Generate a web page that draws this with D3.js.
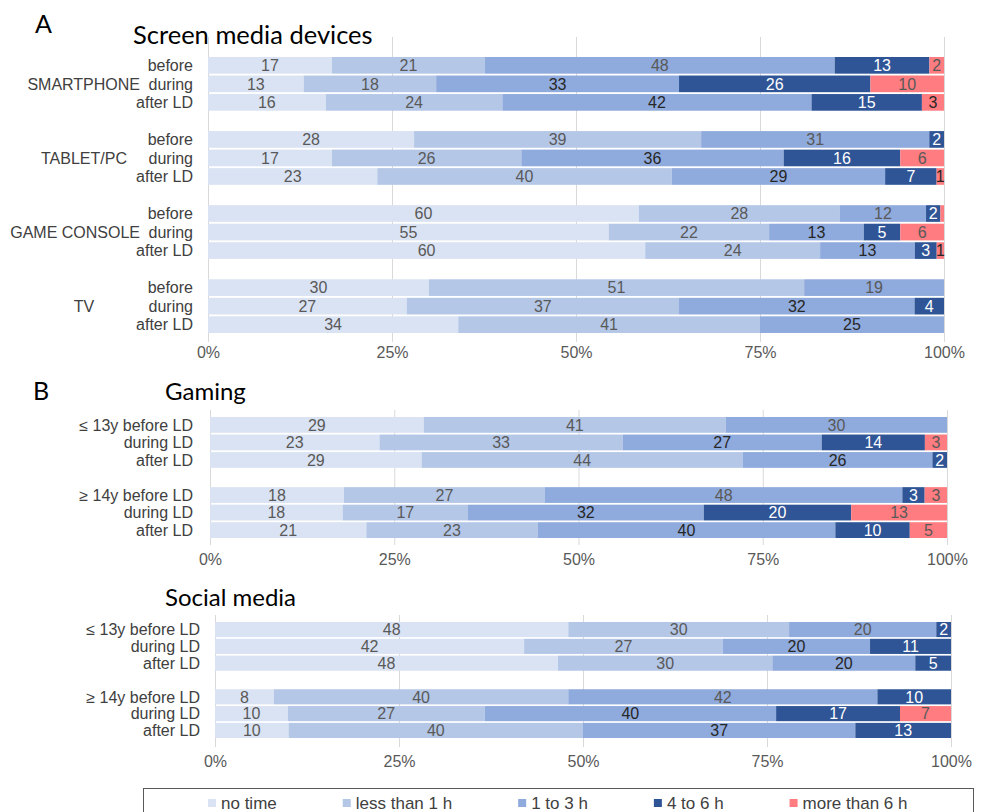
<!DOCTYPE html>
<html>
<head>
<meta charset="utf-8">
<script src="https://cdn.jsdelivr.net/npm/d3@7"></script>
<style>
  body { margin: 0; background: #fff; }
  text { font-family: "Liberation Sans", Arial, sans-serif; }
  .title { font-family: Lato, "Open Sans", sans-serif; fill: #000; }
</style>
</head>
<body>
<div class="chart"></div>
<script>
// answer categories (legend order = stack order)
const categories = ["no time", "less than 1 h", "1 to 3 h", "4 to 6 h", "more than 6 h"];

// A - screen media devices
const deviceGroups = ["SMARTPHONE", "TABLET/PC", "GAME CONSOLE", "TV"];
const deviceTimes = ["before", "during", "after LD"];
const deviceValues = [
    [17, 21, 48, 13, 2], [13, 18, 33, 26, 10], [16, 24, 42, 15, 3],
    [28, 39, 31, 2, 0], [17, 26, 36, 16, 6], [23, 40, 29, 7, 1],
    [60, 28, 12, 2, 0.5], [55, 22, 13, 5, 6], [60, 24, 13, 3, 1],
    [30, 51, 19, 0, 0], [27, 37, 32, 4, 0], [34, 41, 25, 0, 0]
];

// B - gaming / social media by age
const ageGroups = ["≤ 13y", "≥ 14y"];
const ageTimes = ["before LD", "during LD", "after LD"];
const gamingValues = [
    [29, 41, 30, 0, 0], [23, 33, 27, 14, 3], [29, 44, 26, 2, 0],
    [18, 27, 48, 3, 3], [18, 17, 32, 20, 13], [21, 23, 40, 10, 5]
];
const socialValues = [
    [48, 30, 20, 2, 0], [42, 27, 20, 11, 0], [48, 30, 20, 5, 0],
    [8, 40, 42, 10, 0], [10, 27, 40, 17, 7], [10, 40, 37, 13, 0]
];

const tickValues = [0, 0.25, 0.5, 0.75, 1];
const tickLabels = ["0%", "25%", "50%", "75%", "100%"];

const colors = ["#dae3f3", "#b4c7e7", "#8faadc", "#2f5597", "#ff7c80"];

const width = 983;
const height = 812;
const svg = d3.select('.chart')
    .append('svg')
    .attr('width', width)
    .attr('height', height);

function labelColor(ci, time, darkRed){
    if (ci == 3) return "#ffffff";
    if (ci == 2) return time.startsWith("before") ? "#595959" : "#262626";
    if (ci == 4 && darkRed && time == "after LD") return "#262626";
    return "#595959";
}

function drawPanel(p){
    // build rows + empty gap slots between groups
    let rows = [];
    let slots = [];
    p.groups.forEach((g, gi) => {
        p.times.forEach((t, ti) => {
            let row = {key: gi + "-" + ti, group: g, time: t, ti: ti};
            categories.forEach((c, ci) => row[c] = p.values[gi * p.times.length + ti][ci]);
            rows.push(row);
            slots.push(row.key);
        });
        if (gi < p.groups.length - 1) slots.push("gap" + gi);
    });

    const x = d3.scaleLinear().domain([0, 1]).range([p.x0, p.x1]);
    const y = d3.scaleBand().domain(slots).range([p.yTop, p.yBottom])
        .paddingInner(0.1).paddingOuter(0);

    // gridlines
    const grid = svg.append("g")
        .attr("transform", `translate(0,${p.gridBottom})`)
        .call(d3.axisBottom(x).tickValues(tickValues).tickSize(-(p.gridBottom - p.gridTop)).tickFormat(""));
    grid.select(".domain").remove();
    grid.selectAll("line").attr("stroke", "#d9d9d9");

    const stacked = d3.stack().keys(categories).offset(d3.stackOffsetExpand)(rows);

    const layers = svg.append("g").selectAll("g")
        .data(stacked)
        .enter()
        .append("g")
        .attr("fill", (d, i) => colors[i]);

    layers.selectAll("rect")
        .data(d => d)
        .enter()
        .append("rect")
        .attr("x", d => x(d[0]))
        .attr("y", d => y(d.data.key))
        .attr("width", d => x(d[1]) - x(d[0]))
        .attr("height", y.bandwidth());

    // value labels
    stacked.forEach((layer, ci) => {
        svg.append("g").selectAll("text")
            .data(layer.filter(d => d.data[categories[ci]] >= 1))
            .enter()
            .append("text")
            .text(d => d.data[categories[ci]])
            .attr("x", d => (x(d[0]) + x(d[1])) / 2)
            .attr("y", d => y(d.data.key) + y.bandwidth() / 2)
            .attr("dy", "0.36em")
            .attr("text-anchor", "middle")
            .attr("font-size", 16)
            .attr("fill", d => labelColor(ci, d.data.time, !p.groupFirst));
    });

    // row labels
    svg.append("g").selectAll("text")
        .data(rows)
        .enter()
        .append("text")
        .text(d => (p.groupFirst && d.ti == 0) ? d.group + " " + d.time : d.time)
        .attr("x", p.labelX)
        .attr("y", d => y(d.key) + y.bandwidth() / 2)
        .attr("dy", "0.36em")
        .attr("text-anchor", "end")
        .attr("font-size", 16)
        .attr("fill", "#404040");

    if (!p.groupFirst) {
        // device name sits on the "during" row, left of the time label
        svg.append("g").selectAll("text")
            .data(rows.filter(d => d.ti == 1))
            .enter()
            .append("text")
            .text(d => d.group)
            .attr("y", d => y(d.key) + y.bandwidth() / 2)
            .attr("dy", "0.36em")
            .attr("text-anchor", "middle")
            .attr("font-size", 16)
            .attr("fill", "#404040")
            .attr("x", function(){
                let w = this.getComputedTextLength();
                return Math.min(84, 140 - w / 2);
            });
    }

    // percent axis
    const ax = svg.append("g")
        .attr("transform", `translate(0,${p.axisY})`)
        .call(d3.axisBottom(x).tickValues(tickValues).tickSize(0).tickFormat((d, i) => tickLabels[i]));
    ax.select(".domain").remove();
    ax.selectAll("text")
        .attr("y", 0)
        .attr("dy", 0)
        .attr("font-size", 16)
        .attr("font-family", "Liberation Sans, Arial, sans-serif")
        .attr("fill", "#595959");

    svg.append("text")
        .attr("class", "title")
        .text(p.title)
        .attr("x", p.titleX)
        .attr("y", p.titleY)
        .attr("font-size", p.titleSize);
}

drawPanel({title: "Screen media devices", titleX: 133, titleY: 44, titleSize: 25.5,
    groups: deviceGroups, times: deviceTimes, values: deviceValues, groupFirst: false,
    x0: 208, x1: 944, yTop: 57, yBottom: 333, gridTop: 37, gridBottom: 342, axisY: 358, labelX: 193});

drawPanel({title: "Gaming", titleX: 165, titleY: 400, titleSize: 24,
    groups: ageGroups, times: ageTimes, values: gamingValues, groupFirst: true,
    x0: 210, x1: 947, yTop: 417, yBottom: 538, gridTop: 410, gridBottom: 545, axisY: 565, labelX: 193});

drawPanel({title: "Social media", titleX: 165, titleY: 606, titleSize: 24,
    groups: ageGroups, times: ageTimes, values: socialValues, groupFirst: true,
    x0: 215, x1: 951, yTop: 622, yBottom: 738, gridTop: 615, gridBottom: 747, axisY: 767, labelX: 200});

// panel letters
svg.append("text").attr("class", "title").text("A").attr("x", 35).attr("y", 33).attr("font-size", 25);
svg.append("text").attr("class", "title").text("B").attr("x", 33).attr("y", 400).attr("font-size", 25);

// legend
svg.append("rect")
    .attr("x", 143.5).attr("y", 788.5)
    .attr("width", 830).attr("height", 40)
    .attr("fill", "none").attr("stroke", "#595959");

let lx = 208;
categories.forEach((c, i) => {
    svg.append("rect")
        .attr("x", lx).attr("y", 799)
        .attr("width", 8).attr("height", 8)
        .attr("fill", colors[i]);
    let t = svg.append("text")
        .text(c)
        .attr("x", lx + 13)
        .attr("y", 803)
        .attr("dy", "0.36em")
        .attr("font-size", 17)
        .attr("fill", "#404040");
    lx = lx + 13 + t.node().getComputedTextLength() + 66;
});
</script>
</body>
</html>
